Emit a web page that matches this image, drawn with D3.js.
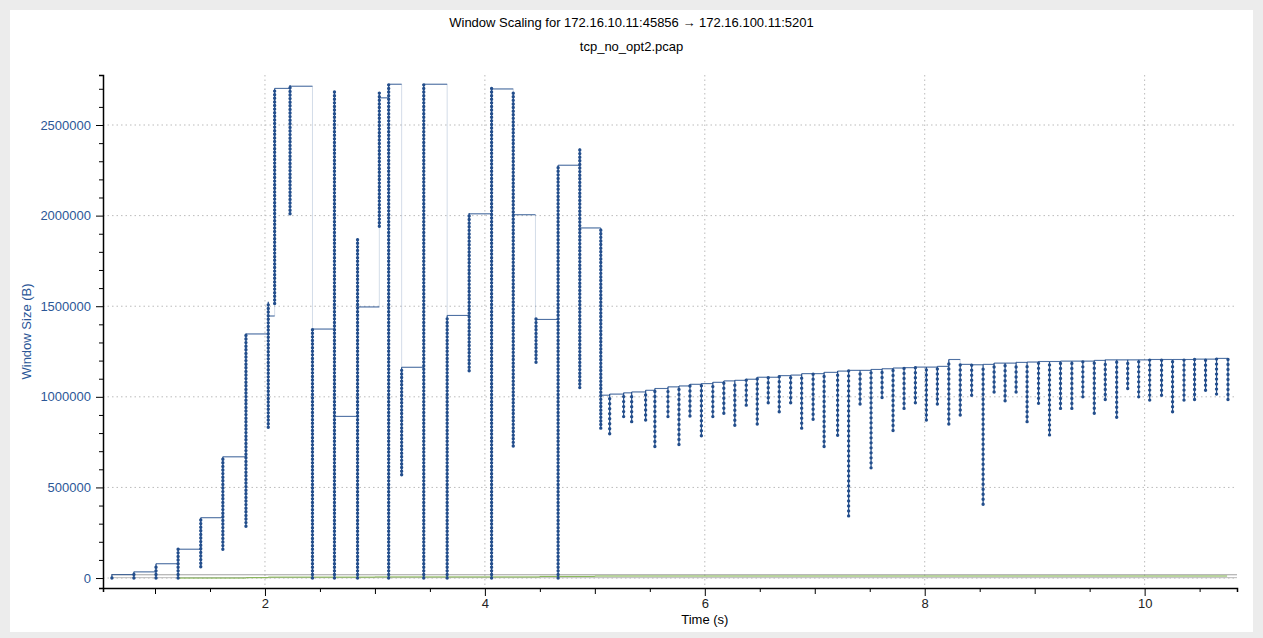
<!DOCTYPE html>
<html><head><meta charset="utf-8">
<script src="https://cdn.jsdelivr.net/npm/d3@7"></script>
<style>
body{margin:0;background:#ececec;font-family:"Helvetica Neue",Arial,"Liberation Sans",sans-serif}
#panel{position:absolute;left:10px;top:10px;width:1243px;height:622px;background:#fff}
</style></head><body>
<div id="panel"></div>
<script>
// segment columns: time (s), lowest and highest window seen (MB units)
var colX = [0.608,0.808,1.009,1.210,1.416,1.617,1.827,2.030,2.088,2.228,2.432,2.632,2.842,3.040,3.125,3.243,3.444,3.657,3.857,4.061,4.258,4.465,4.666,4.863,5.054,
  5.135,5.262,5.335,5.462,5.546,5.665,5.765,5.865,5.969,6.073,6.173,6.273,6.377,6.477,6.577,6.677,6.781,6.881,6.985,7.085,7.208,7.308,7.412,7.512,7.612,7.712,7.812,7.915,8.015,8.115,8.219,8.323,8.427,8.531,8.631,8.731,8.831,8.931,9.035,9.135,9.235,9.338,9.438,9.542,9.642,9.746,9.846,9.946,10.046,10.154,10.254,10.358,10.454,10.554,10.654,10.758];
var colLo = [0,0,0,0,0.062,0.159,0.286,0.832,1.515,2.010,0,0,0,1.941,0,0.570,0,0,1.144,0,0.729,1.191,0,1.051,0.827,
  0.796,0.891,0.863,0.872,0.726,0.891,0.737,0.894,0.785,0.891,0.909,0.843,0.954,0.850,0.967,0.918,0.967,0.827,0.876,0.726,0.788,0.343,0.960,0.608,0.996,0.814,0.936,0.967,0.872,0.960,0.850,0.900,1.009,0.407,1.027,0.978,1.027,0.863,0.964,0.790,0.936,0.936,1.000,0.909,0.985,0.887,1.046,1.000,0.982,1.009,0.918,0.982,0.985,1.036,1.015,0.985];
var colHi = [0.019,0.034,0.079,0.159,0.333,0.669,1.350,1.524,2.702,2.721,1.374,2.683,1.874,2.680,2.726,1.163,2.725,1.449,2.014,2.702,2.678,1.431,2.278,2.371,1.930,
  1.015,1.022,1.027,1.036,1.046,1.055,1.060,1.069,1.073,1.080,1.088,1.091,1.097,1.108,1.108,1.117,1.120,1.128,1.128,1.135,1.142,1.146,1.146,1.151,1.155,1.159,1.161,1.164,1.164,1.168,1.206,1.179,1.177,1.179,1.186,1.186,1.190,1.192,1.195,1.195,1.197,1.197,1.197,1.201,1.204,1.204,1.204,1.204,1.206,1.206,1.206,1.206,1.208,1.208,1.212,1.212];
// receive window step line in the early part (MB units)
var stepX = [0.608,0.808,1.009,1.210,1.416,1.617,1.827,2.030,2.088,2.228,2.432,2.632,2.842,3.040,3.125,3.243,3.444,3.657,3.857,4.061,4.258,4.460,4.666,4.863,5.054];
var stepY = [0.019,0.034,0.079,0.159,0.333,0.669,1.347,1.446,2.702,2.714,1.374,0.892,1.496,2.650,2.725,1.163,2.725,1.449,2.010,2.699,2.005,1.427,2.278,1.932,1.009];
// bytes in flight (green) and the grey baselines
var greenX = [1.2,1.83,2.03,3.0,4.5,5.0,10.75];
var greenY = [0,0.002,0.005,0.006,0.009,0.011,0.011];
var greyX = [0.6,10.84];
var greyY = [0.002,0.002];
var grey2Y = [0.018,0.018];
var xTicks = [2,4,6,8,10];
var yTicks = [0,500000,1000000,1500000,2000000,2500000];

var W = 1263, H = 638;
var margin = {left:103, right:26, top:75, bottom:50};
var svg = d3.select('body').append('svg').attr('width',W).attr('height',H)
  .style('position','absolute').style('left',0).style('top',0);
var x = d3.scaleLinear().domain([0.527,10.84]).range([margin.left, W-margin.right]);
var y = d3.scaleLinear().domain([-0.055e6,2.776e6]).range([H-margin.bottom, margin.top]);
var blue = '#234e8c';

// grid
svg.append('g').selectAll('line').data(xTicks).enter().append('line')
  .attr('x1',d=>x(d)).attr('x2',d=>x(d)).attr('y1',margin.top).attr('y2',H-margin.bottom)
  .attr('stroke','#bbb').attr('stroke-dasharray','1.5 3');
svg.append('g').selectAll('line').data(yTicks).enter().append('line')
  .attr('x1',margin.left).attr('x2',W-margin.right).attr('y1',d=>y(d)).attr('y2',d=>y(d))
  .attr('stroke','#bbb').attr('stroke-dasharray','1.5 3');

var line = d3.line().x(d=>x(d[0])).y(d=>y(d[1]*1e6));
svg.append('path').datum(greyX.map((v,i)=>[v,greyY[i]]))
  .attr('d',line).attr('fill','none').attr('stroke','#bbb');
svg.append('path').datum(greyX.map((v,i)=>[v,grey2Y[i]]))
  .attr('d',line).attr('fill','none').attr('stroke','#777').attr('stroke-width',0.7);
svg.append('path').datum(greenX.map((v,i)=>[v,greenY[i]]))
  .attr('d',d3.line().x(d=>x(d[0])).y(d=>y(d[1]*1e6)).curve(d3.curveStepAfter))
  .attr('fill','none').attr('stroke','#7fb24a').attr('stroke-width',1);

// step line: early points, then column tops
var steps = stepX.map((v,i)=>[v,stepY[i]]);
colX.forEach(function(v,i){ if (v > 5.06) steps.push([v,colHi[i]]); });
svg.append('path').datum(steps)
  .attr('d',d3.line().x(d=>x(d[0])).y(d=>y(d[1]*1e6)).curve(d3.curveStepAfter))
  .attr('fill','none').attr('stroke',blue).attr('stroke-opacity',0.2).attr('stroke-width',1);
// horizontal parts drawn darker
svg.append('g').selectAll('line').data(steps.slice(0,-1)).enter().append('line')
  .attr('x1',d=>x(d[0])).attr('x2',(d,i)=>x(steps[i+1][0]))
  .attr('y1',d=>y(d[1]*1e6)).attr('y2',d=>y(d[1]*1e6))
  .attr('stroke',blue).attr('stroke-opacity',0.75).attr('stroke-width',1.1);

// columns
var cols = svg.append('g');
colX.forEach(function(v,i){
  cols.append('line').attr('x1',x(v)).attr('x2',x(v))
    .attr('y1',y(colLo[i]*1e6)).attr('y2',y(colHi[i]*1e6))
    .attr('stroke',blue).attr('stroke-width',1.2);
  cols.append('line').attr('x1',x(v)).attr('x2',x(v))
    .attr('y1',y(colLo[i]*1e6)).attr('y2',y(colHi[i]*1e6))
    .attr('stroke',blue).attr('stroke-width',3.4).attr('stroke-linecap','round')
    .attr('stroke-dasharray', v > 5.06 ? '0 5' : '0 3.6');
});

// axes
var xAxis = d3.axisBottom(x).tickValues(d3.range(1,11,0.5)).tickSize(4)
  .tickFormat(d => xTicks.indexOf(d) >= 0 ? d : '');
var gx = svg.append('g').attr('transform','translate(0,'+(H-margin.bottom)+')').call(xAxis);
gx.selectAll('.tick line').attr('y2',d => Number.isInteger(d) ? (d%2===0 ? 8 : 6) : 4);
var yAxis = d3.axisLeft(y).tickValues(d3.range(0,2700001,100000)).tickSize(4)
  .tickFormat(d => yTicks.indexOf(d) >= 0 ? d : '');
var gy = svg.append('g').attr('transform','translate('+margin.left+',0)').call(yAxis);
gy.selectAll('.tick line').attr('x2',d => d%500000===0 ? -7 : -4);
[gx,gy].forEach(function(g){
  g.selectAll('text').style('font-size','13px').style('font-family','"Helvetica Neue",Arial,sans-serif');
  g.select('.domain').attr('stroke','#000').attr('stroke-width',1.5);
});
gy.selectAll('text').attr('fill','#2b5797').attr('x',-12);
gx.selectAll('text').attr('fill','#222').attr('y',11);

svg.append('text').attr('x',x(6)).attr('y',H-14).attr('text-anchor','middle')
  .style('font-size','13px').text('Time (s)');
svg.append('text').attr('transform','translate(31,'+((margin.top+H-margin.bottom)/2)+') rotate(-90)')
  .attr('text-anchor','middle').attr('fill','#2b5797').style('font-size','13px').text('Window Size (B)');
svg.append('text').attr('x',W/2).attr('y',27).attr('text-anchor','middle')
  .style('font-size','13px').text('Window Scaling for 172.16.10.11:45856 \u2192 172.16.100.11:5201');
svg.append('text').attr('x',W/2).attr('y',51).attr('text-anchor','middle')
  .style('font-size','13px').text('tcp_no_opt2.pcap');
</script></body></html>
